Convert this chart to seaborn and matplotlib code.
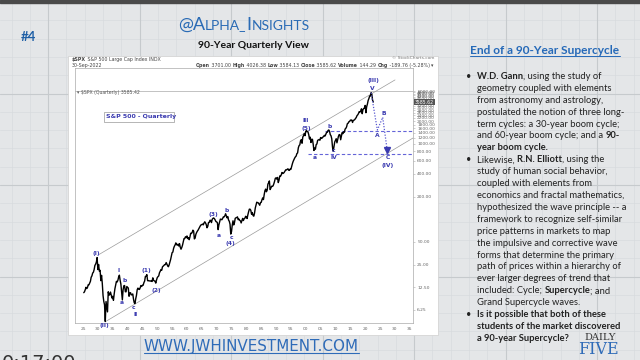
import numpy as np
import pandas as pd
import matplotlib
matplotlib.use("Agg")
import matplotlib.pyplot as plt
import matplotlib.transforms as mtransforms
from matplotlib.patches import Rectangle
from matplotlib.ticker import NullLocator, NullFormatter
import seaborn as sns

# quarterly closes of the S&P 500 (1925 Q1 .. 2022 Q3)
spx_1920s = [10.6, 10.9, 11.6, 12.5, 12.0, 12.4, 13.5, 13.5, 14.2, 15.0, 17.0, 17.7,
             19.3, 19.8, 21.5, 24.4, 25.3, 27.0, 31.0, 21.5]
spx_1930s = [25.1, 20.5, 21.0, 15.3, 18.0, 14.0, 9.7, 8.1, 7.3, 4.4, 8.1, 6.9,
             5.9, 10.9, 9.8, 10.1, 10.8, 9.9, 9.0, 9.5, 8.4, 10.2, 12.0, 13.4,
             15.0, 14.7, 15.5, 17.2, 18.1, 15.5, 13.8, 10.6, 8.5, 11.6, 13.1, 13.2,
             10.9, 10.9, 12.8, 12.5]
spx_1940s = [12.2, 9.5, 10.5, 10.6, 9.9, 10.0, 10.2, 8.7, 7.8, 7.6, 8.8, 9.8,
             11.6, 12.2, 11.8, 11.7, 12.3, 13.2, 12.8, 13.3, 13.3, 14.4, 15.1, 17.4,
             17.5, 18.4, 15.3, 15.3, 15.2, 15.2, 15.1, 15.3, 14.9, 16.7, 15.5, 15.2,
             15.1, 14.2, 15.6, 16.8]
spx_1950s = [17.3, 17.7, 19.5, 20.4, 21.5, 21.0, 23.3, 23.8, 24.4, 25.0, 25.0, 26.6,
             25.3, 24.1, 23.4, 24.8, 26.9, 29.2, 32.3, 36.0, 36.6, 41.0, 43.7, 45.5,
             48.5, 46.0, 45.4, 46.7, 44.1, 47.4, 42.4, 40.0, 42.1, 45.2, 50.1, 55.2,
             55.4, 58.5, 56.9, 59.9]
spx_1960s = [55.3, 56.9, 53.5, 58.1, 65.1, 64.6, 66.7, 71.6, 69.6, 54.8, 56.3, 63.1,
             66.6, 69.4, 71.7, 75.0, 78.9, 81.7, 84.2, 84.8, 86.2, 84.1, 89.0, 92.4,
             89.2, 84.7, 77.0, 80.3, 90.2, 90.6, 96.7, 96.5, 90.2, 99.6, 102.7, 103.9,
             101.5, 97.7, 93.1, 92.1]
spx_1970s = [89.6, 72.7, 84.2, 92.2, 100.3, 99.7, 98.3, 102.1, 107.2, 107.1, 110.6, 118.1,
             111.5, 104.3, 108.4, 97.6, 94.0, 86.0, 63.5, 68.6, 83.4, 95.2, 83.9, 90.2,
             102.8, 104.3, 105.2, 107.5, 98.4, 100.5, 96.5, 95.1, 89.2, 95.5, 102.5, 96.1,
             101.6, 102.9, 109.3, 107.9]
spx_1980s = [102.1, 114.2, 125.5, 135.8, 136.0, 131.2, 116.2, 122.6, 112.0, 109.6, 120.4, 140.6,
             153.0, 168.1, 166.1, 164.9, 159.2, 153.2, 166.1, 167.2, 180.7, 191.9, 182.1, 211.3,
             238.9, 250.8, 231.3, 242.2, 291.7, 304.0, 321.8, 247.1, 258.9, 273.5, 271.9, 277.7,
             294.9, 318.0, 349.2, 353.4]
spx_1990s = [339.9, 358.0, 306.1, 330.2, 375.2, 371.2, 387.9, 417.1, 403.7, 408.1, 418.5, 435.7,
             451.7, 450.5, 458.9, 466.5, 445.8, 444.3, 462.7, 459.3, 500.7, 544.8, 584.4, 615.9,
             645.5, 670.6, 687.3, 740.7, 757.1, 885.1, 947.3, 970.4, 1101.8, 1133.8, 1017.0, 1229.2,
             1286.4, 1372.7, 1282.7, 1469.3]
spx_2000s = [1498.6, 1454.6, 1436.5, 1320.3, 1160.3, 1224.4, 1040.9, 1148.1, 1147.4, 989.8, 815.3, 879.8,
             848.2, 974.5, 996.0, 1111.9, 1126.2, 1140.8, 1114.6, 1211.9, 1180.6, 1191.3, 1228.8, 1248.3,
             1294.8, 1270.2, 1335.9, 1418.3, 1420.9, 1503.4, 1526.8, 1468.4, 1322.7, 1280.0, 1166.4, 903.3,
             797.9, 919.3, 1057.1, 1115.1]
spx_2010s = [1169.4, 1030.7, 1141.2, 1257.6, 1325.8, 1320.6, 1131.4, 1257.6, 1408.5, 1362.2, 1440.7, 1426.2,
             1569.2, 1606.3, 1681.6, 1848.4, 1872.3, 1960.2, 1972.3, 2058.9, 2067.9, 2063.1, 1920.0, 2043.9,
             2059.7, 2098.9, 2168.3, 2238.8, 2362.7, 2423.4, 2519.4, 2673.6, 2640.9, 2718.4, 2914.0, 2506.9,
             2834.4, 2941.8, 2976.7, 3230.8]
spx_2020s = [2584.6, 3100.3, 3363.0, 3756.1, 3972.9, 4297.5, 4307.5, 4766.2, 4530.4, 3785.4, 3585.6]

# elliott wave labels (text, year, price level)
wave_text = ['(I)', '(II)', 'I', 'a', 'b', 'c', 'II', '(1)', '(2)', '(3)', 'a', 'b', 'c', '(4)',
             'III', '(5)', 'a', 'b', 'c', 'IV', '(III)', 'V', 'A', 'B', 'C', '(IV)']
wave_year = [1929.4, 1932.2, 1936.9, 1938.1, 1939.1, 1942.1, 1942.6, 1946.4, 1949.8, 1968.9, 1970.8,
             1973.4, 1975.1, 1974.7, 2000.1, 2000.1, 2003.1, 2007.9, 2009.5, 2009.5, 2022.7, 2022.4,
             2024.1, 2026.3, 2027.5, 2027.6]
wave_value = [35.6, 3.9, 20.9, 7.9, 15.4, 6.8, 5.5, 20.9, 11.5, 116, 60.5, 131, 57, 47,
              2011, 1620, 655, 1686, 805, 655, 6830, 5460, 1300, 2500, 655, 508]

# projected A-B-C path
proj_year = [2022.0, 2024.1, 2025.9, 2027.4]
proj_value = [4766, 1524, 2245, 830]

# support levels and channel lines
level_value = [1488, 727]
level_start = [2006.5, 2000.9]
upper_year, upper_value = [1930.15, 2030.05], [33.6, 7040]
lower_year, lower_value = [1932.4, 2036.1], [4.34, 1194]

y_ticks = [6.25, 12.5, 25, 50, 200, 400, 600, 800, 1000, 1200, 1400] + list(range(1600, 5001, 200))
x_ticks = list(range(1925, 2036, 5))

close = spx_1920s + spx_1930s + spx_1940s + spx_1950s + spx_1960s + spx_1970s + \
    spx_1980s + spx_1990s + spx_2000s + spx_2010s + spx_2020s
dates = pd.date_range('1925-03-31', periods=len(close), freq='QE')
df = pd.DataFrame({'year': dates.year + (dates.dayofyear - 1) / 365.25, 'close': close})

sns.set_style('white')
plt.rcParams['font.family'] = ['Lato', 'DejaVu Sans']

fig = plt.figure(figsize=(6.4, 3.6), dpi=100)

# slide background in pixel units
bg = fig.add_axes([0, 0, 1, 1])
bg.set_xlim(0, 640)
bg.set_ylim(360, 0)
bg.axis('off')
bg.add_patch(Rectangle((0, 0), 640, 360, color='#e4e6e8', zorder=0))
for x in np.arange(11.6, 640, 18.3):
    bg.plot([x, x], [0, 360], color='#d8dbde', lw=0.5, zorder=1)
for y in np.arange(2, 360, 18.3):
    bg.plot([0, 640], [y, y], color='#d8dbde', lw=0.5, zorder=1)
for x in np.arange(48, 640, 91.5):
    bg.plot([x, x], [0, 360], color='#c6cacd', lw=0.8, zorder=1)
for y in np.arange(2, 360, 91.5):
    bg.plot([0, 640], [y, y], color='#c6cacd', lw=0.8, zorder=1)
bg.add_patch(Rectangle((0, 0), 640, 3, color='#4a4a4a', zorder=2))
bg.add_patch(Rectangle((68, 56), 370, 279, facecolor='white', edgecolor='#cfcfcf', lw=0.5, zorder=2))


def measure(s, **kw):
    r = fig.canvas.get_renderer()
    t = bg.text(0, 0, s + '|', **kw)
    w1 = t.get_window_extent(renderer=r).width
    t.remove()
    t = bg.text(0, 0, '|', **kw)
    w2 = t.get_window_extent(renderer=r).width
    t.remove()
    return w1 - w2


def seg_line(x, y, segs, size, color, family='Lato'):
    for s, b in segs:
        kw = dict(fontsize=size, fontweight='bold' if b else 'normal', family=family, color=color)
        bg.text(x, y, s, va='center', ha='left', zorder=5, **kw)
        x += measure(s, **kw)
    return x


# headings
bg.text(28, 37, '#4', fontsize=9.5, fontweight='bold', color='#1f5fa6', ha='center', va='center', zorder=5)
xa = 178
for s, sz in [('@A', 13), ('LPHA_', 10), ('I', 13), ('NSIGHTS', 10)]:
    bg.text(xa, 29.5, s, fontsize=sz, color='#2a6bb5', ha='left', va='baseline', zorder=5)
    xa += measure(s, fontsize=sz)
bg.text(254, 45, '90-Year Quarterly View', fontsize=7.5, fontweight='bold', color='#111111',
        ha='center', va='center', zorder=5)

# chart header
seg_line(72, 60, [('$SPX', True), (' S&P 500 Large Cap Index INDX', False)], 3.4, '#444444', 'DejaVu Sans')
bg.text(72, 65.5, '30-Sep-2022', fontsize=3.4, color='#444444', va='center', family='DejaVu Sans', zorder=5)
seg_line(196, 65.5, [('Open', True), (' 3701.00 ', False), ('High', True), (' 4026.38 ', False),
                     ('Low', True), (' 3584.13 ', False), ('Close', True), (' 3585.62 ', False),
                     ('Volume', True), (' 144.29 ', False), ('Chg', True), (' -189.76 (-5.28%) ', False),
                     ('▾', False)], 3.4, '#444444', 'DejaVu Sans')
bg.text(434, 58, '© StockCharts.com', fontsize=3.2, color='#777777', ha='right', va='center',
        family='DejaVu Sans', zorder=5)

# price chart
ax = fig.add_axes([75 / 640, 1 - 323 / 360, 338 / 640, 255 / 360])
ax.set_facecolor('white')
sns.lineplot(data=df, x='year', y='close', ax=ax, color='black', lw=1.0, zorder=4)
ax.set_yscale('log')
ax.set_ylim(4.2, 10130)
ax.set_xlim(1922.3, 2036.1)
ax.set_xlabel('')
ax.set_ylabel('')
for sp in ax.spines.values():
    sp.set_color('#aaaaaa')
    sp.set_linewidth(0.5)
ax.axhline(5020, color='#aaaaaa', lw=0.5)
ax.yaxis.tick_right()
ax.yaxis.set_minor_locator(NullLocator())
ax.yaxis.set_minor_formatter(NullFormatter())
ax.set_yticks(y_ticks)
ax.set_yticklabels(['%.2f' % v for v in y_ticks])
ax.set_xticks(x_ticks)
ax.set_xticklabels(['%02d' % (v % 100) for v in x_ticks])
ax.tick_params(axis='both', labelsize=3.2, labelcolor='#666666', length=1.5, width=0.4,
               color='#aaaaaa', pad=1.5)
for lab in ax.get_xticklabels() + ax.get_yticklabels():
    lab.set_family('DejaVu Sans')

blend = mtransforms.blended_transform_factory(ax.transAxes, ax.transData)
ax.text(1.006, 3585.62, '3585.62', transform=blend, fontsize=3.3, color='white', va='center',
        family='DejaVu Sans', bbox=dict(boxstyle='square,pad=0.15', fc='#555555', ec='none'), zorder=6)
ax.text(0.006, 0.902, '▾ $SPX (Quarterly) 3585.42', transform=ax.transAxes, fontsize=3.3,
        color='#555555', va='center', family='DejaVu Sans')

# channel lines
ax.plot(upper_year, upper_value, color='#9a9a9a', lw=0.5, zorder=3)
ax.plot(lower_year, lower_value, color='#9a9a9a', lw=0.5, zorder=3)

# support levels
for v, s in zip(level_value, level_start):
    ax.plot([s, 2036.1], [v, v], color='#6464d8', lw=0.8, ls=(0, (3, 2)), zorder=3)

# projection
ax.plot(proj_year, proj_value, color='#5a5ad0', lw=0.9, ls=(0, (1, 1.3)), zorder=5)
ax.plot(proj_year[-1:], proj_value[-1:], marker='v', ms=4, color='#3a3ab0', ls='none', zorder=5)

for t, x, v in zip(wave_text, wave_year, wave_value):
    ax.text(x, v, t, fontsize=4.3, fontweight='bold', color='#3b3bb0', ha='center', va='center',
            family='DejaVu Sans', clip_on=False, zorder=6)

# legend box
fig.patches.append(Rectangle((104 / 640, 1 - 122 / 360), 70 / 640, 10 / 360, transform=fig.transFigure,
                             facecolor='white', edgecolor='#999999', lw=0.5, zorder=7))
fig.text(106 / 640, 1 - 117 / 360, 'S&P 500 - Quarterly', fontsize=4.5, fontweight='bold', color='#3b3bb0',
         va='center', family='DejaVu Sans', zorder=8)

# right-hand text panel
bg.text(545, 50, 'End of a 90-Year Supercycle', fontsize=8.6, fontweight='bold', color='#2569b8',
        ha='center', va='center', zorder=5)
tw = measure('End of a 90-Year Supercycle', fontsize=8.6, fontweight='bold')
bg.plot([545 - tw / 2, 545 + tw / 2], [56, 56], color='#2569b8', lw=0.7, zorder=5)

text_lines = [
    [('W.D. Gann', True), (', using the study of', False)],
    [('geometry coupled with elements', False)],
    [('from astronomy and astrology,', False)],
    [('postulated the notion of three long-', False)],
    [('term cycles: a 30-year boom cycle;', False)],
    [('and 60-year boom cycle; and a ', False), ('90-', True)],
    [('year boom cycle.', True)],
    [('Likewise, ', False), ('R.N. Elliott', True), (', using the', False)],
    [('study of human social behavior,', False)],
    [('coupled with elements from', False)],
    [('economics and fractal mathematics,', False)],
    [('hypothesized the wave principle -- a', False)],
    [('framework to recognize self-similar', False)],
    [('price patterns in markets to map', False)],
    [('the impulsive and corrective wave', False)],
    [('forms that determine the primary', False)],
    [('path of prices within a hierarchy of', False)],
    [('ever larger degrees of trend that', False)],
    [('included: Cycle; ', False), ('Supercycle', True), ('; and', False)],
    [('Grand Supercycle waves.', False)],
    [('Is it possible that both of these', True)],
    [('students of the market discovered', True)],
    [('a 90-year Supercycle?', True)],
]
bullet_rows = [0, 7, 20]
for i, segs in enumerate(text_lines):
    y = 76.5 + i * 11.9
    if i in bullet_rows:
        bg.text(469, y, '•', fontsize=6.5, color='#222222', ha='center', va='center', zorder=5)
    seg_line(477, y, segs, 6.75, '#222222')

# footer
bg.text(251, 346, 'WWW.JWHINVESTMENT.COM', fontsize=10.9, color='#2e6bb8', ha='center', va='center',
        family='DejaVu Sans', zorder=5)
ww = measure('WWW.JWHINVESTMENT.COM', fontsize=10.9, family='DejaVu Sans')
bg.plot([251 - ww / 2, 251 + ww / 2], [352.5, 352.5], color='#2e6bb8', lw=0.8, zorder=5)
bg.text(600, 337, 'DAILY', fontsize=7, color='#333333', ha='center', va='center', family='DejaVu Serif', zorder=5)
bg.text(598, 350, 'FIVE', fontsize=11.5, color='#2e6bb8', ha='center', va='center', family='DejaVu Serif',
        zorder=5)
bg.text(2, 354, '0:17:00', fontsize=14, color='#333333', ha='left', va='top', family='DejaVu Sans', zorder=5)

fig.savefig('out.png', dpi=100)
